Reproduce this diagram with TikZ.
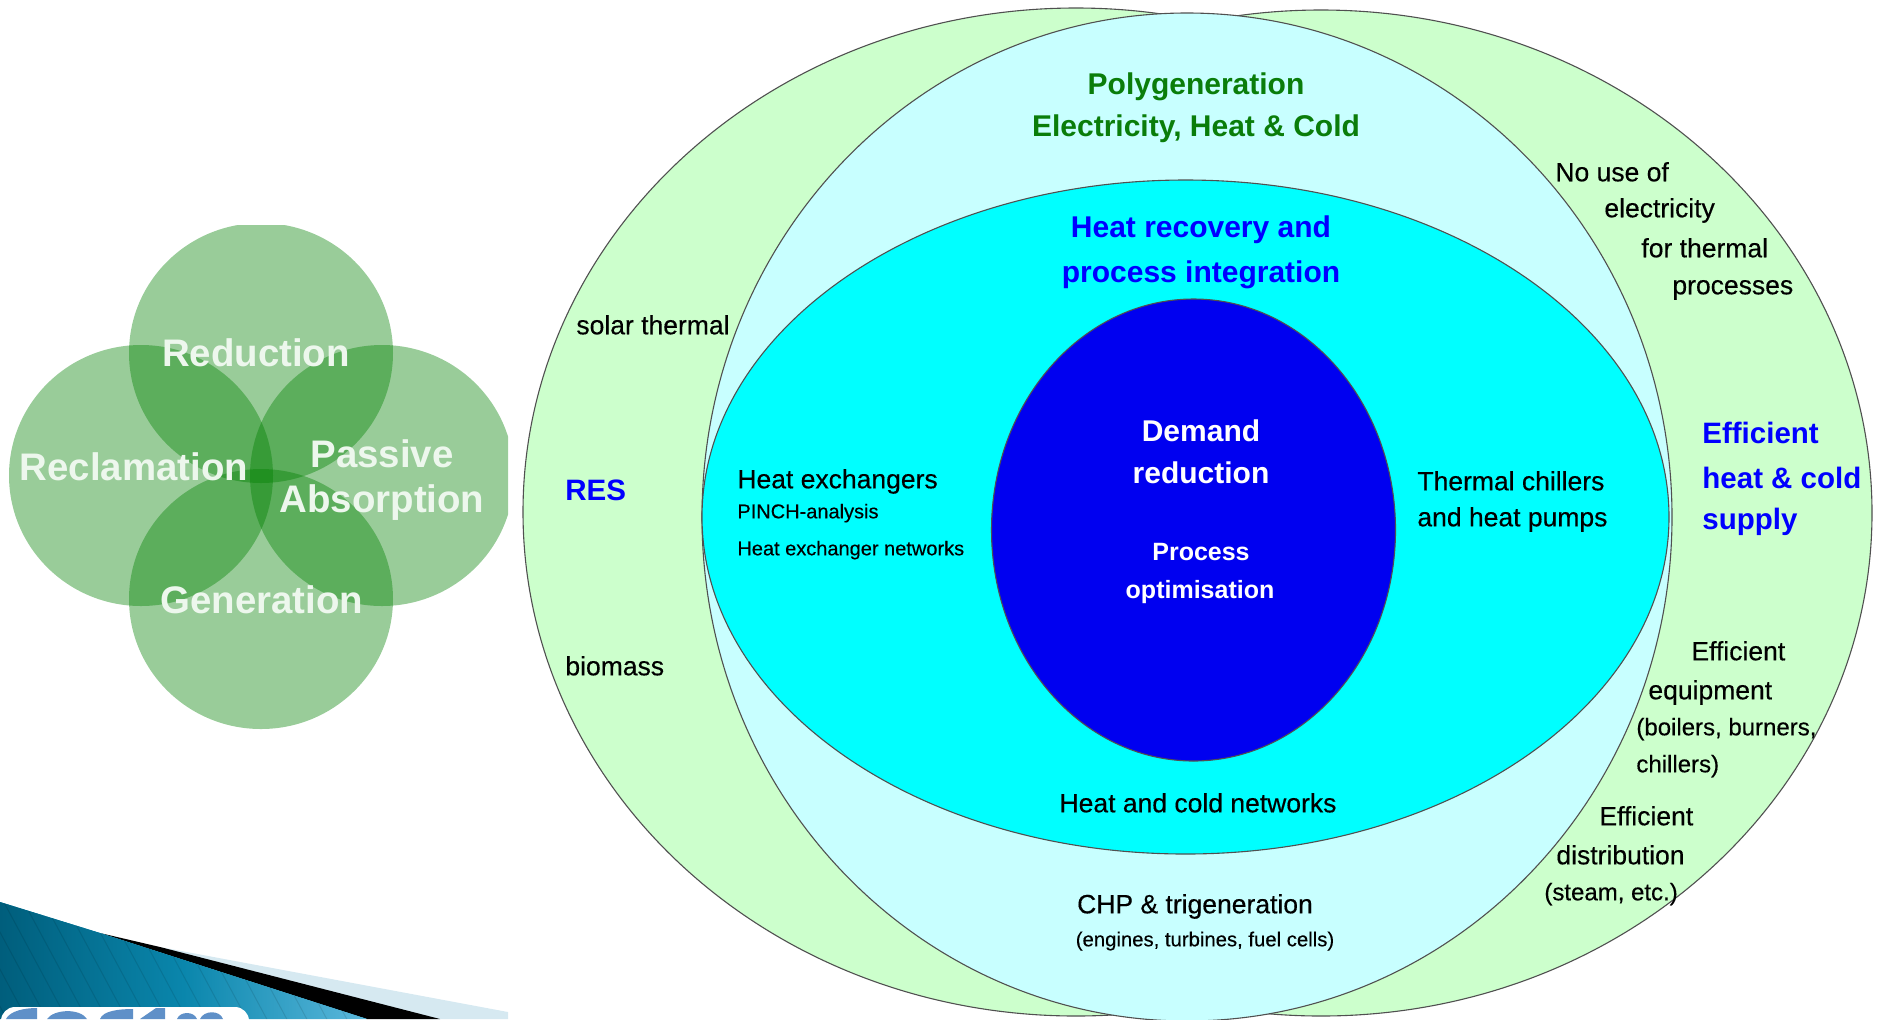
\documentclass[tikz,border=0pt]{standalone}
\usepackage{fontspec}
\setmainfont{Liberation Sans}
\newfontfamily\heavy[FakeBold=0.35]{Liberation Sans}
\definecolor{outerg}{HTML}{CCFFCC}
\definecolor{lightc}{HTML}{C8FFFF}
\definecolor{midc}{HTML}{00FFFF}
\definecolor{deepb}{HTML}{0000F0}
\definecolor{edgeg}{HTML}{505050}
\definecolor{polyg}{HTML}{0A7D0A}
\definecolor{venng}{HTML}{008000}
\definecolor{vennt}{HTML}{EDF7ED}
\definecolor{wedge}{HTML}{D6E9F1}
\definecolor{logob}{HTML}{5F90C8}
\definecolor{tealA}{HTML}{005E7C}
\definecolor{tealB}{HTML}{0A86AC}
\definecolor{tealC}{HTML}{5BB8DC}
\newcommand{\fsz}[1]{\fontsize{#1}{#1}\selectfont}
\tikzset{
  ring/.style={draw=edgeg,line width=0.55pt},
  petal/.style={fill=venng,fill opacity=0.4},
  lbl/.style={inner sep=0pt,anchor=mid west,font=\heavy\fsz{13.25}},
  lblc/.style={inner sep=0pt,anchor=mid,font=\heavy\fsz{13.25}},
  small/.style={inner sep=0pt,anchor=mid west,font=\heavy\fsz{12}},
  tiny/.style={inner sep=0pt,anchor=mid west,font=\heavy\fsz{10}},
  headg/.style={inner sep=0pt,anchor=mid,text=polyg,font=\bfseries\fsz{15}},
  headb/.style={inner sep=0pt,anchor=mid,text=blue,font=\bfseries\fsz{15}},
  headw/.style={inner sep=0pt,anchor=mid west,text=blue,font=\bfseries\fsz{14.75}},
  corew/.style={inner sep=0pt,anchor=mid,text=white,font=\bfseries\fsz{15}},
  cores/.style={inner sep=0pt,anchor=mid,text=white,font=\bfseries\fsz{12.5}},
  vlab/.style={inner sep=0pt,anchor=mid,text=vennt,font=\bfseries\fsz{19.2}}
}
\pgfdeclarehorizontalshading{tealband}{100bp}{
  color(0bp)=(tealA); color(25bp)=(tealA); color(50bp)=(tealB); color(75bp)=(tealC); color(100bp)=(tealC)}
\begin{document}
\begin{tikzpicture}[x=0.5pt,y=-0.5pt]
\useasboundingbox (0,0) rectangle (1878,1019);
\begin{scope}
\clip (0,0) rectangle (1878,1019);
% bottom-left decoration
\fill[wedge] (160,947) -- (508,1012) -- (508,1019) -- (400,1019) -- cycle;
\fill[black] (100,933) -- (160,947) -- (440,1019) -- (367,1019) -- cycle;
\begin{scope}
\clip (0,902) -- (100,933) -- (367,1019) -- (0,1019) -- cycle;
\fill[tealB] (0,902) rectangle (367,1019);
\shade[shading=tealband] (0,902) rectangle (367,1019);
\foreach \sx in {-60,-40,...,340}
  \draw[black,opacity=0.10,line width=0.5pt] (\sx,895) -- ++(70,130);
\end{scope}
\fill[white,rounded corners=7pt] (1,1007) rectangle (249,1040);
\fill[logob] (6,1019) .. controls (10,1011) and (24,1008) .. (37,1008) -- (37,1019) -- cycle;
\fill[logob] (47,1019) .. controls (54,1009) and (80,1008) .. (87,1019) -- cycle;
\fill[logob] (100,1019) .. controls (103,1011) and (118,1009) .. (133,1009) -- (133,1019) -- cycle;
\fill[logob] (140,1019) -- (156,1008) -- (165,1008) -- (165,1019) -- cycle;
\fill[logob] (177,1019) .. controls (180,1011) and (194,1011) .. (197,1019) -- cycle;
\fill[logob] (200,1019) .. controls (204,1010) and (220,1010) .. (223,1019) -- cycle;
% venn diagram
\begin{scope}
\clip (0,225) rectangle (508,735);
\fill[petal] (261,353) ellipse [x radius=132,y radius=130];
\fill[petal] (141,475.5) ellipse [x radius=132,y radius=130.5];
\fill[petal] (382,475.5) ellipse [x radius=132,y radius=130.5];
\fill[petal] (261,599) ellipse [x radius=132,y radius=130];
\end{scope}
% nested ellipses
\filldraw[ring,fill=outerg] (1076,512) ellipse [x radius=553,y radius=504];
\filldraw[ring,fill=outerg] (1321,513) ellipse [x radius=551,y radius=503];
\filldraw[ring,fill=lightc] (1187,517) ellipse [x radius=485,y radius=504];
\filldraw[ring,fill=midc] (1185.5,517) ellipse [x radius=483.5,y radius=337];
\filldraw[ring,fill=deepb] (1193.5,530) ellipse [x radius=202,y radius=231];
\end{scope}
% venn labels
\node[vlab] (vReduction) at (256,361) {Reduction};
\node[vlab] (vReclamation) at (134,475) {Reclamation};
\node[vlab] (vPassive) at (382,462) {Passive};
\node[vlab] (vAbsorption) at (382,507) {Absorption};
\node[vlab] (vGeneration) at (262,608) {Generation};
% centre column
\node[headg] (tPoly) at (1196,89) {Polygeneration};
\node[headg] (tElec) at (1196,131) {Electricity, Heat \& Cold};
\node[headb] (tRecov) at (1201,232) {Heat recovery and};
\node[headb] (tInteg) at (1201,277) {process integration};
\node[corew] (tDemand) at (1201,436) {Demand};
\node[corew] (tRedu) at (1201,478) {reduction};
\node[cores] (tProc) at (1201,555) {Process};
\node[cores] (tOpti) at (1200,593) {optimisation};
\node[lblc] (tNets) at (1198,807) {Heat and cold networks};
\node[lblc] (tCHP) at (1195,908) {CHP \& trigeneration};
\node[inner sep=0pt,anchor=mid,font=\heavy\fsz{10.15}] (tEng) at (1205,941) {(engines, turbines, fuel cells)};
% left side
\node[lbl] (tExch) at (737,483) {Heat exchangers};
\node[tiny] (tPinch) at (737,513) {PINCH-analysis};
\node[tiny] (tExNet) at (737,550) {Heat exchanger networks};
\node[lbl] (tSolar) at (576,329) {solar thermal};
\node[headw] (tRES) at (565,495) {RES};
\node[lbl] (tBio) at (565,670) {biomass};
% right of core
\node[lbl] (tChill) at (1417,485) {Thermal chillers};
\node[lbl] (tPumps) at (1417,521) {and heat pumps};
% right band
\node[lbl] (tNoUse) at (1555,176) {No use of};
\node[lbl] (tElecy) at (1604,212) {electricity};
\node[lbl] (tForTh) at (1641,252) {for thermal};
\node[lbl] (tProcs) at (1672,289) {processes};
\node[headw] (tEff) at (1702,438) {Efficient};
\node[headw] (tHC) at (1702,483) {heat \& cold};
\node[headw] (tSup) at (1702,524) {supply};
\node[lbl] (tEffA) at (1691,655) {Efficient};
\node[lbl] (tEquip) at (1648,694) {equipment};
\node[small] (tBoil) at (1636,730) {(boilers, burners,};
\node[small] (tChil2) at (1636,767) {chillers)};
\node[lbl] (tEffB) at (1599,820) {Efficient};
\node[lbl] (tDist) at (1556,859) {distribution};
\node[small] (tSteam) at (1544,895) {(steam, etc.)};
\end{tikzpicture}
\end{document}
